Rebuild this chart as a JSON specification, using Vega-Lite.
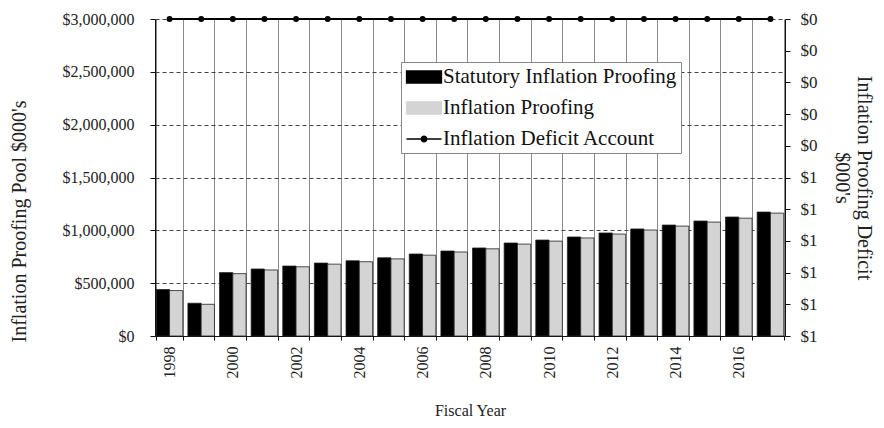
{
  "$schema": "https://vega.github.io/schema/vega-lite/v6.json",
  "width": 630,
  "height": 317,
  "autosize": {"type": "none"},
  "padding": {"left": 155, "top": 19, "right": 99, "bottom": 92},
  "background": "white",
  "config": {
    "font": "Liberation Serif",
    "view": {"stroke": null},
    "axis": {
      "labelFont": "Liberation Serif",
      "titleFont": "Liberation Serif",
      "labelColor": "#222",
      "titleColor": "#222",
      "titleFontWeight": "normal",
      "labelFontSize": 16,
      "titleFontSize": 15,
      "domainColor": "#111",
      "tickColor": "#111"
    },
    "legend": {
      "labelFont": "Liberation Serif",
      "labelFontSize": 21,
      "labelColor": "#111"
    }
  },
  "datasets": {
    "pool": [
      {"year": 1998, "series": "Statutory Inflation Proofing", "value": 440000},
      {"year": 1998, "series": "Inflation Proofing", "value": 430000},
      {"year": 1999, "series": "Statutory Inflation Proofing", "value": 310000},
      {"year": 1999, "series": "Inflation Proofing", "value": 300000},
      {"year": 2000, "series": "Statutory Inflation Proofing", "value": 600000},
      {"year": 2000, "series": "Inflation Proofing", "value": 590000},
      {"year": 2001, "series": "Statutory Inflation Proofing", "value": 634000},
      {"year": 2001, "series": "Inflation Proofing", "value": 625000},
      {"year": 2002, "series": "Statutory Inflation Proofing", "value": 662000},
      {"year": 2002, "series": "Inflation Proofing", "value": 655000},
      {"year": 2003, "series": "Statutory Inflation Proofing", "value": 690000},
      {"year": 2003, "series": "Inflation Proofing", "value": 680000},
      {"year": 2004, "series": "Statutory Inflation Proofing", "value": 712000},
      {"year": 2004, "series": "Inflation Proofing", "value": 703000},
      {"year": 2005, "series": "Statutory Inflation Proofing", "value": 740000},
      {"year": 2005, "series": "Inflation Proofing", "value": 730000},
      {"year": 2006, "series": "Statutory Inflation Proofing", "value": 776000},
      {"year": 2006, "series": "Inflation Proofing", "value": 765000},
      {"year": 2007, "series": "Statutory Inflation Proofing", "value": 804000},
      {"year": 2007, "series": "Inflation Proofing", "value": 795000},
      {"year": 2008, "series": "Statutory Inflation Proofing", "value": 833000},
      {"year": 2008, "series": "Inflation Proofing", "value": 825000},
      {"year": 2009, "series": "Statutory Inflation Proofing", "value": 880000},
      {"year": 2009, "series": "Inflation Proofing", "value": 870000},
      {"year": 2010, "series": "Statutory Inflation Proofing", "value": 908000},
      {"year": 2010, "series": "Inflation Proofing", "value": 898000},
      {"year": 2011, "series": "Statutory Inflation Proofing", "value": 937000},
      {"year": 2011, "series": "Inflation Proofing", "value": 928000},
      {"year": 2012, "series": "Statutory Inflation Proofing", "value": 975000},
      {"year": 2012, "series": "Inflation Proofing", "value": 965000},
      {"year": 2013, "series": "Statutory Inflation Proofing", "value": 1013000},
      {"year": 2013, "series": "Inflation Proofing", "value": 1003000},
      {"year": 2014, "series": "Statutory Inflation Proofing", "value": 1050000},
      {"year": 2014, "series": "Inflation Proofing", "value": 1040000},
      {"year": 2015, "series": "Statutory Inflation Proofing", "value": 1088000},
      {"year": 2015, "series": "Inflation Proofing", "value": 1078000},
      {"year": 2016, "series": "Statutory Inflation Proofing", "value": 1126000},
      {"year": 2016, "series": "Inflation Proofing", "value": 1115000},
      {"year": 2017, "series": "Statutory Inflation Proofing", "value": 1173000},
      {"year": 2017, "series": "Inflation Proofing", "value": 1163000}
    ],
    "deficit": [
      {"year": 1998, "series": "Inflation Deficit Account", "deficit": 0},
      {"year": 1999, "series": "Inflation Deficit Account", "deficit": 0},
      {"year": 2000, "series": "Inflation Deficit Account", "deficit": 0},
      {"year": 2001, "series": "Inflation Deficit Account", "deficit": 0},
      {"year": 2002, "series": "Inflation Deficit Account", "deficit": 0},
      {"year": 2003, "series": "Inflation Deficit Account", "deficit": 0},
      {"year": 2004, "series": "Inflation Deficit Account", "deficit": 0},
      {"year": 2005, "series": "Inflation Deficit Account", "deficit": 0},
      {"year": 2006, "series": "Inflation Deficit Account", "deficit": 0},
      {"year": 2007, "series": "Inflation Deficit Account", "deficit": 0},
      {"year": 2008, "series": "Inflation Deficit Account", "deficit": 0},
      {"year": 2009, "series": "Inflation Deficit Account", "deficit": 0},
      {"year": 2010, "series": "Inflation Deficit Account", "deficit": 0},
      {"year": 2011, "series": "Inflation Deficit Account", "deficit": 0},
      {"year": 2012, "series": "Inflation Deficit Account", "deficit": 0},
      {"year": 2013, "series": "Inflation Deficit Account", "deficit": 0},
      {"year": 2014, "series": "Inflation Deficit Account", "deficit": 0},
      {"year": 2015, "series": "Inflation Deficit Account", "deficit": 0},
      {"year": 2016, "series": "Inflation Deficit Account", "deficit": 0},
      {"year": 2017, "series": "Inflation Deficit Account", "deficit": 0}
    ]
  },
  "layer": [
    {
      "data": {"name": "pool"},
      "mark": {"type": "bar", "stroke": "#222", "strokeWidth": 0.8},
      "encoding": {
        "x": {
          "field": "year",
          "type": "ordinal",
          "scale": {"paddingInner": 0.16, "paddingOuter": 0.04},
          "axis": {
            "title": "Fiscal Year",
            "labelAngle": 270,
            "labelPadding": 6,
            "labelExpr": "datum.value % 2 == 0 ? datum.label : ''",
            "tickBand": "extent",
            "tickSize": 4,
            "grid": true,
            "gridColor": "#8a8a8a",
            "gridWidth": 1,
            "titlePadding": 24,
            "titleFontSize": 16
          }
        },
        "xOffset": {
          "field": "series",
          "sort": ["Statutory Inflation Proofing", "Inflation Proofing"],
          "scale": {"paddingInner": 0}
        },
        "y": {
          "field": "value",
          "type": "quantitative",
          "scale": {"domain": [0, 3000000]},
          "axis": {
            "title": "Inflation Proofing Pool $000's",
            "titleFontSize": 20,
            "format": "$,.0f",
            "values": [0, 500000, 1000000, 1500000, 2000000, 2500000, 3000000],
            "tickSize": 5,
            "labelPadding": 16,
            "grid": true,
            "gridDash": [4, 3],
            "gridColor": "#444",
            "gridWidth": 1.2,
            "titleX": -126,
            "titleY": 202
          }
        },
        "color": {
          "field": "series",
          "type": "nominal",
          "scale": {
            "domain": ["Statutory Inflation Proofing", "Inflation Proofing", "Inflation Deficit Account"],
            "range": ["#000000", "#d4d4d4", "#000000"]
          },
          "legend": {
            "title": null,
            "orient": "none",
            "legendX": 246,
            "legendY": 43,
            "fillColor": "white",
            "strokeColor": "#888",
            "padding": 4,
            "rowPadding": 10,
            "symbolSize": 400,
            "symbolOffset": 8,
            "labelOffset": 8,
            "labelLimit": 400,
            "symbolStrokeColor": "#000",
            "symbolStrokeWidth": 1.3,
            "encode": {
              "symbols": {
                "update": {
                  "shape": {"signal": "datum.value === 'Inflation Deficit Account' ? 'M-1.75,0H1.75M-0.28,0A0.28,0.28,0,1,1,0.28,0A0.28,0.28,0,1,1,-0.28,0Z' : 'M-1.75,-0.6H1.75V0.6H-1.75Z'"},
                  "stroke": {"value": "#000"},
                  "strokeWidth": {"value": 1.3},
                  "fill": {"signal": "datum.value === 'Inflation Proofing' ? '#d4d4d4' : '#000'"},
                  "opacity": {"value": 1},
                  "fillOpacity": {"value": 1},
                  "strokeOpacity": {"value": 1}
                }
              }
            }
          }
        }
      }
    },
    {
      "data": {"name": "deficit"},
      "mark": {"type": "line", "strokeWidth": 2, "point": {"filled": true, "size": 36}},
      "encoding": {
        "x": {"field": "year", "type": "ordinal"},
        "y": {
          "field": "deficit",
          "type": "quantitative",
          "scale": {"domain": [0, 1], "reverse": true},
          "axis": {
            "orient": "right",
            "title": ["Inflation Proofing Deficit", "$000's"],
            "titleFontSize": 20,
            "labelFontSize": 17,
            "format": "$.0f",
            "values": [0, 0.1, 0.2, 0.3, 0.4, 0.5, 0.6, 0.7, 0.8, 0.9, 1],
            "grid": false,
            "tickSize": 5,
            "labelPadding": 10,
            "titlePadding": 14
          }
        },
        "color": {
          "field": "series",
          "type": "nominal",
          "legend": {
            "title": null,
            "orient": "none",
            "legendX": 246,
            "legendY": 43,
            "fillColor": "white",
            "strokeColor": "#888",
            "padding": 4,
            "rowPadding": 10,
            "symbolSize": 400,
            "symbolOffset": 8,
            "labelOffset": 8,
            "labelLimit": 400,
            "symbolStrokeColor": "#000",
            "symbolStrokeWidth": 1.3,
            "encode": {
              "symbols": {
                "update": {
                  "shape": {"signal": "datum.value === 'Inflation Deficit Account' ? 'M-1.75,0H1.75M-0.28,0A0.28,0.28,0,1,1,0.28,0A0.28,0.28,0,1,1,-0.28,0Z' : 'M-1.75,-0.6H1.75V0.6H-1.75Z'"},
                  "stroke": {"value": "#000"},
                  "strokeWidth": {"value": 1.3},
                  "fill": {"signal": "datum.value === 'Inflation Proofing' ? '#d4d4d4' : '#000'"},
                  "opacity": {"value": 1},
                  "fillOpacity": {"value": 1},
                  "strokeOpacity": {"value": 1}
                }
              }
            }
          }
        }
      }
    }
  ],
  "resolve": {"scale": {"y": "independent"}}
}
